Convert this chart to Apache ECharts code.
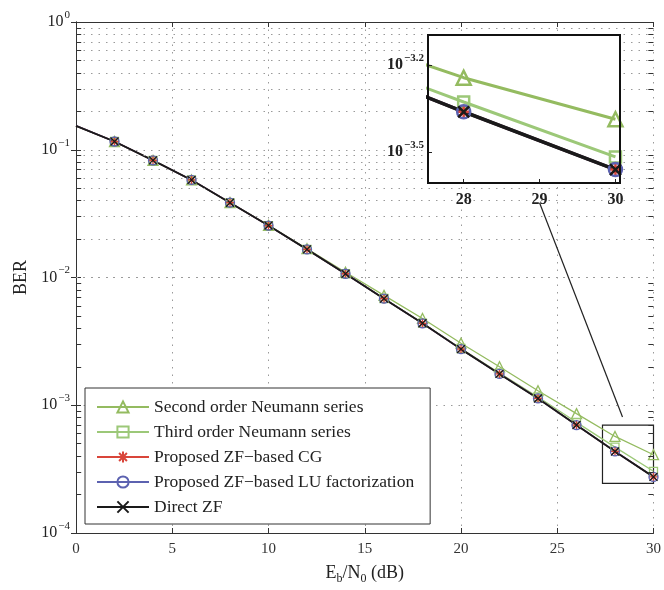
<!DOCTYPE html>
<html>
<head>
<meta charset="utf-8">
<script src="https://cdn.jsdelivr.net/npm/echarts@6/dist/echarts.min.js"></script>
<style>
  html, body { margin: 0; padding: 0; background: #fff; }
  #chart { width: 664px; height: 590px; }
</style>
</head>
<body>
<div id="chart"></div>
<script>
// Eb/N0 在 dB, BER 数据
const snr = [0, 2, 4, 6, 8, 10, 12, 14, 16, 18, 20, 22, 24, 26, 28, 30];
const secondOrder = [0.154, 0.116, 0.0826, 0.058, 0.0386, 0.0256, 0.0168, 0.011, 0.00725, 0.00478, 0.00306, 0.002, 0.0013, 0.00086, 0.00057, 0.00041];
const thirdOrder  = [0.154, 0.116, 0.0826, 0.058, 0.0385, 0.0255, 0.0166, 0.0107, 0.00685, 0.0044, 0.00278, 0.00179, 0.00116, 0.000735, 0.00047, 0.000304];
const proposedCG  = [0.154, 0.116, 0.0826, 0.058, 0.0385, 0.0255, 0.0166, 0.0107, 0.00683, 0.00438, 0.00275, 0.00176, 0.00113, 0.0007, 0.000435, 0.000275];
const proposedLU  = [0.154, 0.116, 0.0826, 0.058, 0.0385, 0.0255, 0.0166, 0.0107, 0.00683, 0.00438, 0.00275, 0.00176, 0.00113, 0.0007, 0.000435, 0.000275];
const directZF    = [0.154, 0.116, 0.0826, 0.058, 0.0385, 0.0255, 0.0166, 0.0107, 0.00683, 0.00438, 0.00275, 0.00176, 0.00113, 0.0007, 0.000435, 0.000275];

const seriesNames = ['Second order Neumann series', 'Third order Neumann series', 'Proposed ZF\u2212based CG', 'Proposed ZF\u2212based LU factorization', 'Direct ZF'];

// 放大图的刻度
const insetXTicks = [28, 29, 30];
const insetYExp = [-3.2, -3.5];

const SERIF = '"Liberation Serif", "Times New Roman", serif';
const INSET = { left: 428, top: 35, width: 192, height: 148 };

const X_PATH = 'path://M0,0L10,10M10,0L0,10';
const STAR_PATH = 'path://M5,0L5,10M0,5L10,5M1.5,1.5L8.5,8.5M1.5,8.5L8.5,1.5';

const styles = [
    { color: '#94bb60', symbol: 'triangle', size: 10, inSize: 14, width: 1.3 },
    { color: '#9cc878', symbol: 'rect', size: 8, inSize: 11, width: 1.3 },
    { color: '#d9453a', symbol: STAR_PATH, size: 9, inSize: 12, width: 1.5 },
    { color: '#5c62b0', symbol: 'circle', size: 9, inSize: 13, width: 1.5 },
    { color: '#1a1a1a', symbol: X_PATH, size: 8, inSize: 11, width: 1.8 }
];
const allData = [secondOrder, thirdOrder, proposedCG, proposedLU, directZF];

function toPoints(ys) {
    return snr.map((x, i) => x === 0 ? { value: [x, ys[i]], symbol: 'none' } : [x, ys[i]]);
}

// 上标标签
function supLabel(exp) {
    const txt = String(exp).replace('-', '\u2212');
    return '{b|10}{s|' + txt + '}';
}
function supRich(size, bold) {
    return {
        b: { fontFamily: SERIF, fontSize: size, color: '#222', fontWeight: bold ? 'bold' : 'normal' },
        s: { fontFamily: SERIF, fontSize: Math.round(size * 0.68), color: '#222', fontWeight: bold ? 'bold' : 'normal', padding: [0, 0, 14, 1] }
    };
}

// 次网格线 (2..9 x 10^k)
const minorVals = [];
for (let k = -4; k < 0; k++) {
    for (let m = 2; m <= 9; m++) minorVals.push(m * Math.pow(10, k));
}
const gridDot = { color: '#9a9a9a', type: [1.5, 6], width: 1 };
const mainGridLines = [];
minorVals.forEach(v => {
    mainGridLines.push({ yAxis: v, lineStyle: gridDot });
    mainGridLines.push([{ coord: [0, v], lineStyle: { color: '#333', type: 'solid', width: 1 } }, { coord: [0.27, v] }]);
    mainGridLines.push([{ coord: [29.73, v], lineStyle: { color: '#333', type: 'solid', width: 1 } }, { coord: [30, v] }]);
});

const insetGridLines = [];
insetXTicks.slice(0, 2).forEach(x => insetGridLines.push({ xAxis: x }));
insetYExp.forEach(e => insetGridLines.push({ yAxis: Math.pow(10, e) }));

const series = [
    {
        name: 'gridMain', type: 'line', data: [], xAxisIndex: 0, yAxisIndex: 0, z: 1, silent: true,
        markLine: { silent: true, symbol: ['none', 'none'], label: { show: false }, animation: false, data: mainGridLines }
    },
    {
        name: 'zoomMark', type: 'line', data: [], xAxisIndex: 0, yAxisIndex: 0, z: 3, silent: true,
        markArea: {
            silent: true,
            itemStyle: { color: 'rgba(0,0,0,0)', borderColor: '#222', borderWidth: 1.2 },
            data: [[{ coord: [27.35, 7.0e-4] }, { coord: [30, 2.45e-4] }]]
        },
        markLine: {
            silent: true, symbol: ['none', 'none'], label: { show: false },
            lineStyle: { color: '#222', type: 'solid', width: 1.2 },
            data: [[{ coord: [24.08, 0.0385] }, { coord: [28.39, 0.00081] }]]
        }
    }
];

seriesNames.forEach((name, i) => {
    const s = styles[i];
    const isPath = s.symbol.indexOf('path://') === 0;
    series.push({
        name: name, type: 'line', xAxisIndex: 0, yAxisIndex: 0, z: 2,
        data: toPoints(allData[i]),
        symbol: s.symbol, symbolSize: s.size, showAllSymbol: true,
        lineStyle: { color: s.color, width: s.width },
        itemStyle: { color: isPath ? s.color : 'rgba(0,0,0,0)', borderColor: s.color, borderWidth: 1.3 }
    });
});

series.push({
    name: 'gridInset', type: 'line', data: [], xAxisIndex: 2, yAxisIndex: 2, z: 15, silent: true,
    markLine: { silent: true, symbol: ['none', 'none'], label: { show: false }, lineStyle: gridDot, data: insetGridLines }
});

seriesNames.forEach((name, i) => {
    const s = styles[i];
    const isPath = s.symbol.indexOf('path://') === 0;
    series.push({
        name: name, type: 'line', xAxisIndex: 2, yAxisIndex: 2, z: 20,
        data: toPoints(allData[i]),
        symbol: s.symbol, symbolSize: s.inSize, showAllSymbol: true,
        lineStyle: { color: s.color, width: i === 4 ? 3.5 : 3 },
        itemStyle: { color: isPath ? s.color : 'rgba(0,0,0,0)', borderColor: s.color, borderWidth: 2.5 }
    });
});

const chart = echarts.init(document.getElementById('chart'));
const option = {
    animation: false,
    backgroundColor: '#fff',
    grid: [
        { left: 76, top: 22, right: 10, bottom: 50 },
        { left: INSET.left, top: INSET.top, width: INSET.width, height: INSET.height }
    ],
    legend: {
        data: seriesNames,
        orient: 'vertical',
        left: 85, top: 388,
        padding: [10, 16, 8, 11],
        itemWidth: 52, itemHeight: 14, itemGap: 7,
        backgroundColor: '#fff',
        borderColor: '#333', borderWidth: 1,
        textStyle: { fontFamily: SERIF, fontSize: 17.5, color: '#222' }
    },
    xAxis: [
        {
            type: 'value', gridIndex: 0, min: 0, max: 30, interval: 5,
            name: '{t|E}{sub|b}{t|/N}{sub|0}{t| (dB)}',
            nameLocation: 'middle', nameGap: 28,
            nameTextStyle: {
                rich: {
                    t: { fontFamily: SERIF, fontSize: 18, color: '#222' },
                    sub: { fontFamily: SERIF, fontSize: 12, color: '#222', padding: [12, 0, 0, 0] }
                }
            },
            axisLine: { lineStyle: { color: '#333', width: 1 } },
            axisTick: { inside: true, length: 5, lineStyle: { color: '#333' } },
            axisLabel: { fontFamily: SERIF, fontSize: 15, color: '#333', margin: 9 },
            splitLine: { show: true, lineStyle: gridDot }
        },
        {
            type: 'value', gridIndex: 0, min: 0, max: 30, interval: 5, position: 'top',
            axisLine: { lineStyle: { color: '#333', width: 1 } },
            axisTick: { inside: true, length: 5, lineStyle: { color: '#333' } },
            axisLabel: { show: false },
            splitLine: { show: false }
        },
        {
            type: 'value', gridIndex: 1, min: 27.53, max: 30.06, z: 21,
            axisLine: { show: false },
            axisTick: { inside: true, length: 4, customValues: insetXTicks, lineStyle: { color: '#222' } },
            axisLabel: { customValues: insetXTicks, fontFamily: SERIF, fontSize: 16, fontWeight: 'bold', color: '#222', margin: 9 },
            splitLine: { show: false }
        }
    ],
    yAxis: [
        {
            type: 'log', logBase: 10, gridIndex: 0, min: 1e-4, max: 1,
            name: 'BER', nameLocation: 'middle', nameGap: 45,
            nameTextStyle: { fontFamily: SERIF, fontSize: 18, color: '#222' },
            axisLine: { lineStyle: { color: '#333', width: 1 } },
            axisTick: { inside: true, length: 5, lineStyle: { color: '#333' } },
            axisLabel: {
                margin: 6,
                formatter: v => supLabel(Math.round(Math.log10(v))),
                rich: supRich(16, false)
            },
            splitLine: { show: true, lineStyle: gridDot }
        },
        {
            type: 'log', logBase: 10, gridIndex: 0, min: 1e-4, max: 1, position: 'right',
            axisLine: { lineStyle: { color: '#333', width: 1 } },
            axisTick: { inside: true, length: 5, lineStyle: { color: '#333' } },
            axisLabel: { show: false },
            splitLine: { show: false }
        },
        {
            type: 'log', logBase: 10, gridIndex: 1, z: 21,
            min: Math.pow(10, -3.607), max: Math.pow(10, -3.097),
            axisLine: { show: false },
            axisTick: { inside: true, length: 4, customValues: insetYExp.map(e => Math.pow(10, e)), lineStyle: { color: '#222' } },
            axisLabel: {
                customValues: insetYExp.map(e => Math.pow(10, e)),
                margin: 4,
                formatter: v => supLabel(Math.log10(v).toFixed(1)),
                rich: supRich(16, true)
            },
            splitLine: { show: false }
        }
    ],
    graphic: [
        {
            type: 'rect', z: 10, silent: true,
            shape: { x: INSET.left, y: INSET.top, width: INSET.width, height: INSET.height },
            style: { fill: '#fff' }
        },
        {
            type: 'rect', z: 30, silent: true,
            shape: { x: INSET.left, y: INSET.top, width: INSET.width, height: INSET.height },
            style: { fill: 'none', stroke: '#111', lineWidth: 2 }
        }
    ],
    series: series
};
chart.setOption(option);
</script>
</body>
</html>
